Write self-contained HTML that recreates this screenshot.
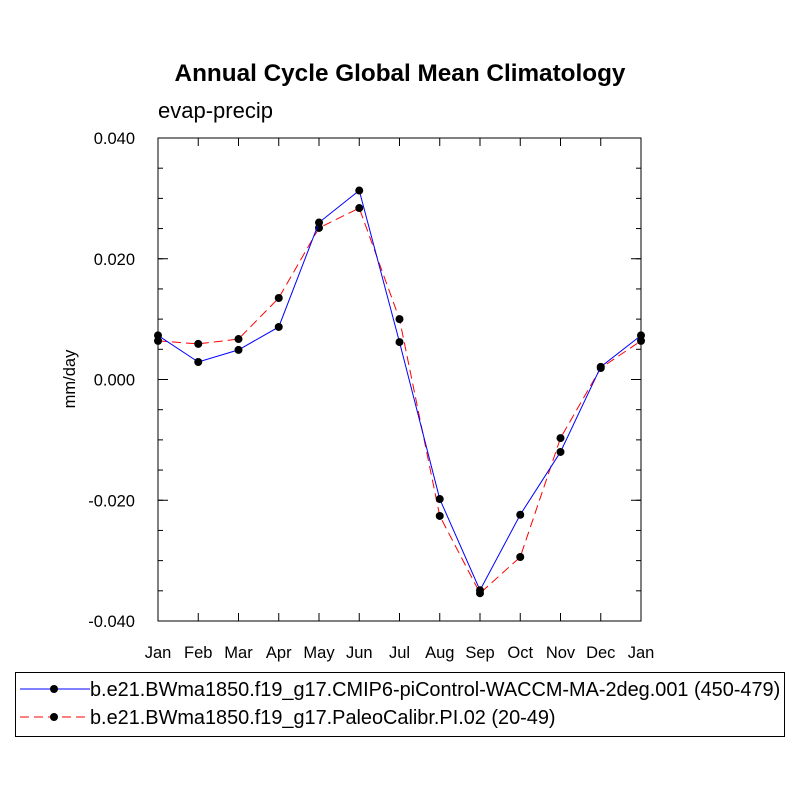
<!DOCTYPE html>
<html><head><meta charset="utf-8"><style>
html,body{margin:0;padding:0;background:#fff;}
svg{display:block;font-family:"Liberation Sans",Arial,sans-serif;}
</style></head><body>
<svg id="chart" width="800" height="800" viewBox="0 0 800 800">
<text x="400" y="81" text-anchor="middle" font-size="24.3" font-weight="bold">Annual Cycle Global Mean Climatology</text>
<text x="158" y="118" font-size="22">evap-precip</text>
<text transform="translate(75,379) rotate(-90)" text-anchor="middle" font-size="16.5">mm/day</text>
<g id="axes"></g>
<g id="series"></g>
<rect x="15.5" y="672.5" width="769" height="64" fill="none" stroke="#000" stroke-width="1"/>
<g>
<line x1="20" y1="689" x2="90" y2="689" stroke="#00f" stroke-width="1"/>
<circle cx="54" cy="689" r="4" fill="#000"/>
<text x="90" y="696" font-size="19.9">b.e21.BWma1850.f19_g17.CMIP6-piControl-WACCM-MA-2deg.001 (450-479)</text>
</g>
<g>
<line x1="20" y1="717" x2="90" y2="717" stroke="#f00" stroke-width="1" stroke-dasharray="9,5"/>
<circle cx="54" cy="717" r="4" fill="#000"/>
<text x="90" y="724" font-size="19.9">b.e21.BWma1850.f19_g17.PaleoCalibr.PI.02 (20-49)</text>
</g>
</svg>
<script>
const months = ["Jan","Feb","Mar","Apr","May","Jun","Jul","Aug","Sep","Oct","Nov","Dec","Jan"];
const controlValues = [0.0073,0.0029,0.0049,0.0087,0.0260,0.0313,0.0062,-0.0198,-0.0349,-0.0224,-0.0120,0.0021,0.0073];
const paleoValues = [0.0064,0.0059,0.0067,0.0135,0.0251,0.0284,0.0100,-0.0226,-0.0354,-0.0294,-0.0097,0.0019,0.0064];
const yTickValues = [0.04,0.02,0,-0.02,-0.04];
const yTickLabels = ["0.040","0.020","0.000","-0.020","-0.040"];

const NS="http://www.w3.org/2000/svg";
const L=158,R=641,T=138,B=621,yMin=-0.04,yMax=0.04;
function xs(i){return L+(R-L)*i/(months.length-1);}
function ys(v){return B-(v-yMin)/(yMax-yMin)*(B-T);}
function mk(tag,at,parent){const e=document.createElementNS(NS,tag);for(const k in at)e.setAttribute(k,at[k]);parent.appendChild(e);return e;}
const axes=document.getElementById('axes'),series=document.getElementById('series');
const frame=mk('rect',{x:L,y:T,width:R-L,height:B-T,fill:'none',stroke:'#000','stroke-width':1},axes);


months.forEach((m,i)=>{
  const x=xs(i);
  mk('line',{x1:x,y1:B,x2:x,y2:B-8,stroke:'#000'},axes);
  mk('line',{x1:x,y1:T,x2:x,y2:T+8,stroke:'#000'},axes);
  const t=mk('text',{x:x,y:B+37,'text-anchor':'middle','font-size':16.5},axes);
  t.textContent=m;
  
  
});
for(let v=yMin;v<=yMax+1e-9;v+=0.005){
  const y=ys(v);
  mk('line',{x1:L,y1:y,x2:L+5,y2:y,stroke:'#000'},axes);
  mk('line',{x1:R,y1:y,x2:R-5,y2:y,stroke:'#000'},axes);
}
yTickValues.forEach((v,i)=>{
  const y=ys(v);
  mk('line',{x1:L,y1:y,x2:L+10,y2:y,stroke:'#000'},axes);
  mk('line',{x1:R,y1:y,x2:R-10,y2:y,stroke:'#000'},axes);
  const t=mk('text',{x:135,y:y+6,'text-anchor':'end','font-size':16.5},axes);
  t.textContent=yTickLabels[i];
  
  
});
function draw(vals,color,dash,name){
  const pts=vals.map((v,i)=>xs(i)+','+ys(v)).join(' ');
  const pl=mk('polyline',{points:pts,fill:'none',stroke:color,'stroke-width':1,'stroke-dasharray':dash},series);
  
  
  vals.forEach((v,i)=>{
    const c=mk('circle',{cx:xs(i),cy:ys(v),r:4,fill:'#000'},series);
    
    
  });
}
draw(paleoValues,'#f00','9,5','paleo');
draw(controlValues,'#00f','none','control');
</script>
</body></html>
